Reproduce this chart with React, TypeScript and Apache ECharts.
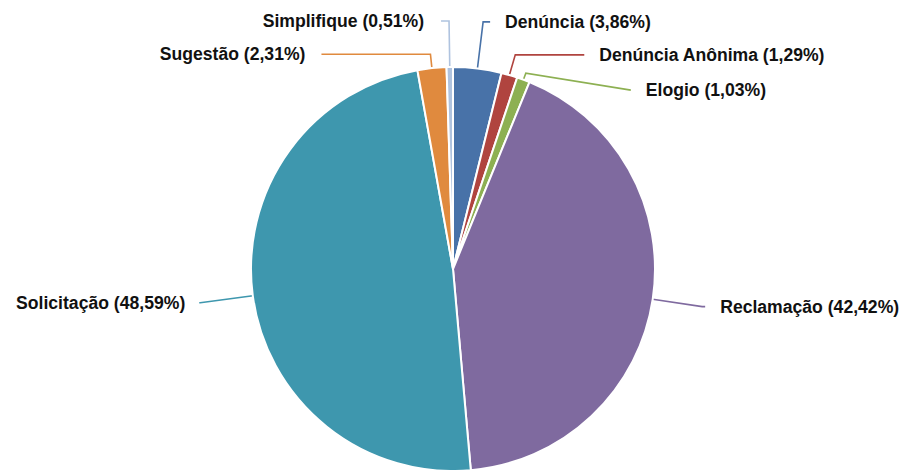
import React, { useEffect, useRef } from "react";
import * as echarts from "echarts";

const categories = [
  "Denúncia",
  "Denúncia Anônima",
  "Elogio",
  "Reclamação",
  "Solicitação",
  "Sugestão",
  "Simplifique",
];
const percentages = [3.86, 1.29, 1.03, 42.42, 48.59, 2.31, 0.51];

const colors = ["#4872A8", "#B0443F", "#8DB052", "#7F6A9F", "#3E97AE", "#E08A3E", "#AFC3DF"];
// leader line styles per slice: [length, length2, distance to label, extra label dy]
const leaderStyles = [
  [47, 7, 15, 0],
  [21, 69, 15, 0],
  [7, 105, 15, 17],
  [50, 3, 15, 0],
  [53, 1, 14, 0],
  [14, 109, 16, 0],
  [46, 8, 17, 0],
];

export default function App() {
  const ref = useRef<HTMLDivElement>(null);
  useEffect(() => {
    if (!ref.current) return;
    const chart = echarts.init(ref.current, null, { renderer: "svg" });
    const data = categories.map((name, i) => ({
      name,
      value: percentages[i],
      itemStyle: { color: colors[i] },
      labelLine: {
        length: leaderStyles[i][0],
        length2: leaderStyles[i][1],
        lineStyle: { color: colors[i], width: 1.6 },
      },
      label: { distanceToLabelLine: leaderStyles[i][2] },
    }));
    chart.setOption({
      animation: false,
      backgroundColor: "#ffffff",
      series: [
        {
          type: "pie",
          center: [453, 269],
          radius: 202,
          startAngle: 90,
          clockwise: true,
          avoidLabelOverlap: false,
          minShowLabelAngle: 0,
          itemStyle: { borderColor: "#ffffff", borderWidth: 2 },
          label: {
            show: true,
            position: "outside",
            alignTo: "none",
            fontFamily: "Liberation Sans, Arial, sans-serif",
            fontWeight: "bold",
            fontSize: 17.6,
            color: "#111111",
            formatter: (p: any) =>
              `${p.name} (${Number(p.value).toFixed(2).replace(".", ",")}%)`,
          },
          labelLine: { show: true, smooth: false },
          labelLayout: (params: any) => {
            const dy = leaderStyles[params.dataIndex][3];
            if (!dy || !params.labelLinePoints) return {};
            const pts = params.labelLinePoints;
            return {
              dy,
              labelLinePoints: [
                pts[0],
                pts[1],
                [pts[2][0], pts[2][1] + dy],
              ],
            };
          },
          emphasis: { disabled: true },
          data,
        },
      ],
    });
    return () => chart.dispose();
  }, []);
  return (
    <div
      ref={ref}
      style={{ position: "absolute", left: 0, top: 0, width: 902, height: 470 }}
    />
  );
}
